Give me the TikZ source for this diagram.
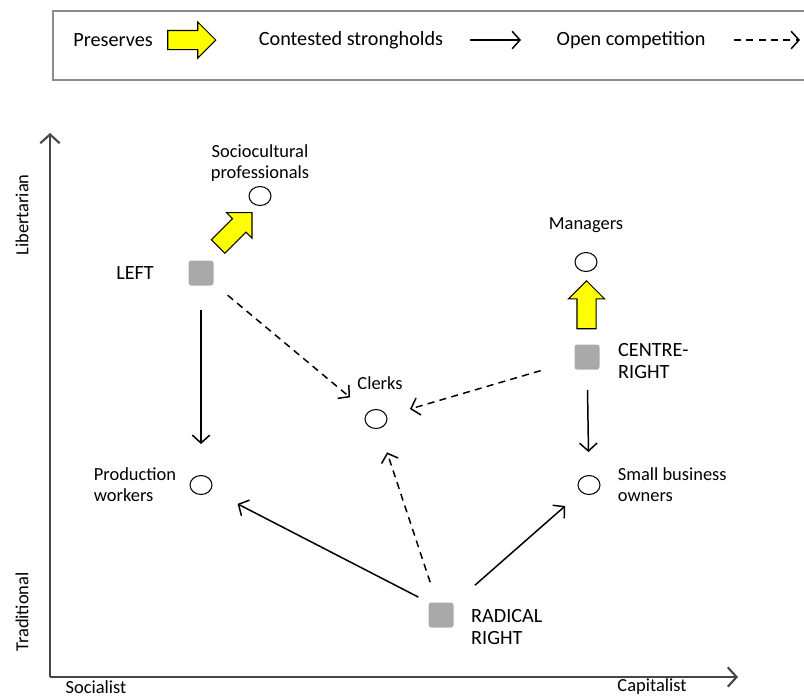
\documentclass[tikz,border=0pt]{standalone}
\usepackage{fontspec}
\setmainfont{Carlito}
\definecolor{PreserveYellow}{RGB}{255,255,0}
\definecolor{PartyGrey}{RGB}{169,169,169}
\definecolor{FrameGrey}{RGB}{140,140,140}
\definecolor{AxisGrey}{RGB}{70,70,70}
\usepackage{tikz}
\usetikzlibrary{arrows.meta, shapes.geometric, shapes.arrows, positioning, calc}

\tikzset{
  party/.style={fill=PartyGrey, rounded corners=1.5pt, minimum size=0.5cm, inner sep=0pt},
  group/.style={draw, ellipse, minimum width=0.44cm, minimum height=0.38cm, inner sep=0pt, line width=0.6pt},
  grouplabel/.style={font=\fontsize{10.5}{12}\selectfont, align=left, inner sep=0pt},
  partylabel/.style={font=\fontsize{11.5}{13}\selectfont, align=left, inner sep=0pt},
  legendtext/.style={font=\fontsize{11.5}{13}\selectfont, inner sep=0pt},
  preserve/.style={single arrow, draw, fill=PreserveYellow, line width=0.6pt,
    minimum height=0.96cm, inner sep=0.18cm, single arrow head extend=0.17cm},
  contest/.style={-{Straight Barb[length=4.5pt,width=10pt]}, line width=0.85pt},
  compete/.style={contest, dash pattern=on 4pt off 3pt},
  axis/.style={-{Straight Barb[length=5pt,width=11pt]}, line width=1.2pt, AxisGrey}
}

\begin{document}
\begin{tikzpicture}[x=0.02cm, y=-0.02cm]
\useasboundingbox (0,0) rectangle (804,698);

\draw[FrameGrey, line width=0.8pt] (53,11) rectangle (812,80);
\node[legendtext] (lpres) at (113,40) {Preserves};
\node[preserve] (lpresarrow) at (187,40) {};
\node[legendtext] (lcont) at (351,40) {Contested strongholds};
\coordinate (lcontA) at (470,40);
\coordinate (lcontB) at (521,40);
\draw[contest] (lcontA) -- (lcontB);
\node[legendtext] (lopen) at (631,40) {Open competition};
\coordinate (lopenA) at (734,40);
\coordinate (lopenB) at (800,40);
\draw[compete] (lopenA) -- (lopenB);

\coordinate (origin) at (50,677);
\coordinate (ytip) at (50,133);
\coordinate (xtip) at (738,677);
\draw[axis] (origin) -- (ytip);
\draw[axis] (origin) -- (xtip);
\node[grouplabel, rotate=90] (libertarian) at (22,215) {Libertarian};
\node[grouplabel, rotate=90] (traditional) at (22,612) {Traditional};
\node[grouplabel] (socialist) at (96,687) {Socialist};
\node[grouplabel] (capitalist) at (652,687) {Capitalist};

\node[party] (left) at (201,273) {};
\node[party] (cright) at (587,357) {};
\node[party] (radical) at (441,615) {};
\node[partylabel, left=0.68cm of left] (leftlabel) {LEFT};
\node[partylabel, right=0.36cm of cright, yshift=-0.08cm] (crightlabel) {CENTRE-\\RIGHT};
\node[partylabel, right=0.34cm of radical, yshift=-0.24cm] (radicallabel) {RADICAL\\RIGHT};

\node[group] (socio) at (260,196) {};
\node[group] (managers) at (586,262) {};
\node[group] (clerks) at (376,419) {};
\node[group] (prod) at (201,485) {};
\node[group] (small) at (589,485) {};
\node[grouplabel, align=center, above=0.08cm of socio] (sociolabel) {Sociocultural\\professionals};
\node[grouplabel, above=0.38cm of managers] (managerslabel) {Managers};
\node[grouplabel, above=0.38cm of clerks, xshift=0.08cm] (clerkslabel) {Clerks};
\node[grouplabel, left=0.26cm of prod] (prodlabel) {Production\\workers};
\node[grouplabel, right=0.34cm of small] (smalllabel) {Small business\\owners};

\node[preserve, rotate=45] (leftpres) at ($(left)!0.52!(socio)$) {};
\node[preserve, rotate=90] (crightpres) at ($(cright)!0.5!(managers)$) {};

\draw[contest, shorten <=0.48cm, shorten >=0.62cm] (left) -- (prod);
\draw[compete, shorten <=0.36cm, shorten >=0.46cm] (left) -- (clerks);
\draw[compete, shorten <=0.7cm, shorten >=0.48cm] (cright) -- (clerks);
\draw[contest, shorten <=0.4cm, shorten >=0.46cm] (cright) -- (small);
\draw[contest, shorten <=0.22cm, shorten >=0.6cm] (radical.north west) -- (prod);
\draw[compete, shorten <=0.42cm, shorten >=0.5cm] (radical) -- (clerks);
\draw[contest, shorten <=0.56cm, shorten >=0.42cm] (radical) -- (small);
\end{tikzpicture}
\end{document}
